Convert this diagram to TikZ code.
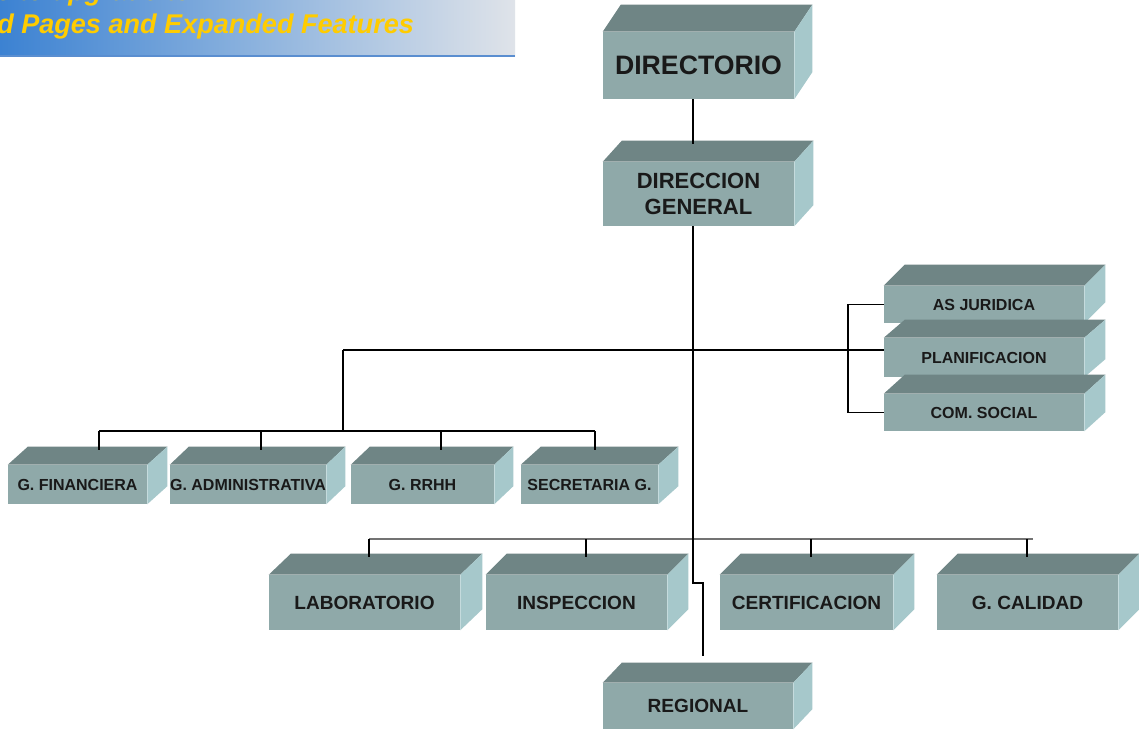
\documentclass[tikz,border=0pt]{standalone}
\usepackage{fontspec}
\setmainfont{Liberation Sans}
\definecolor{frontc}{HTML}{8FA9A9}
\definecolor{topc}{HTML}{6F8585}
\definecolor{sidec}{HTML}{A6C8CB}
\definecolor{bannerL}{HTML}{3C82D2}
\definecolor{bannerM}{HTML}{8DB3DE}
\definecolor{bannerR}{HTML}{DFE3E9}
\definecolor{bannerY}{HTML}{FFCC00}
\definecolor{bannerB}{HTML}{5A8ED0}
\tikzset{
  front/.style={fill=frontc, inner sep=0pt, text=black!90, align=center},
  topf/.style={fill=topc},
  sidef/.style={fill=sidec},
  fa/.style={font=\bfseries\fontsize{20pt}{24pt}\selectfont},
  fb/.style={font=\bfseries\fontsize{16.5pt}{20pt}\selectfont},
  fc/.style={font=\bfseries\fontsize{12pt}{14pt}\selectfont},
  fd/.style={font=\bfseries\fontsize{14.3pt}{17pt}\selectfont},
  conn/.style={draw=black, line width=1.4pt},
  busg/.style={draw=black!55, line width=1.1pt},
  bantext/.style={font=\bfseries\itshape\fontsize{20.3pt}{24pt}\selectfont, text=bannerY, inner sep=0pt, anchor=base west}
}
% name, x1, y1, x2, y2, dx, dy, text, style
\newcommand{\slab}[9]{%
  \node[front, #9, minimum width={(#4-#2)*0.75pt}, minimum height={(#5-#3)*0.75pt}] (#1) at ({(#2+#4)/2},{(#3+#5)/2}) {#8};
  \fill[topf] (#1.north west) -- ++(#6,-#7) -- ([shift={(#6,-#7)}]#1.north east) -- (#1.north east) -- cycle;
  \fill[sidef] (#1.north east) -- ++(#6,-#7) -- ([shift={(#6,-#7)}]#1.south east) -- (#1.south east) -- cycle;
  \coordinate (#1-top) at ([shift={(0,-#7+3)}]#1.north);
}
\begin{document}
\begin{tikzpicture}[x=0.75pt,y=-0.75pt]
\useasboundingbox (0,0) rectangle (1139,729);
\fill[white] (0,0) rectangle (1139,729);
\clip (0,0) rectangle (1139,729);
% banner
\shade[left color=bannerL, right color=bannerM] (0,0) rectangle (258,56);
\shade[left color=bannerM, right color=bannerR] (257,0) rectangle (515,56);
\draw[bannerB, line width=1.5pt] (0,56) -- (515,56);
\node[bantext] (bt1) at (-4,0) {e to upgrade to};
\node[bantext] (bt2) at (-3,33) {d Pages and Expanded Features};
% boxes
\slab{dir}{603}{32}{794}{99}{18}{27}{DIRECTORIO}{fa}
\slab{dg}{603}{162}{794}{226}{19}{21}{DIRECCION\\GENERAL}{fb}
\slab{aj}{884}{286}{1084}{323}{21}{21}{AS JURIDICA}{fc}
\slab{planif}{884}{338}{1084}{377}{21}{18}{PLANIFICACION}{fc}
\slab{cs}{884}{394}{1084}{431}{21}{19}{COM. SOCIAL}{fc}
\slab{fin}{8}{465}{147}{504}{20}{18}{G. FINANCIERA}{fc}
\slab{adm}{170}{465}{326}{504}{19}{18}{G. ADMINISTRATIVA}{fc}
\slab{rrhh}{351}{465}{494}{504}{19}{18}{G. RRHH}{fc}
\slab{sec}{521}{465}{658}{504}{20}{18}{SECRETARIA G.}{fc}
\slab{lab}{269}{575}{460}{630}{22}{21}{LABORATORIO}{fd}
\slab{insp}{486}{575}{667}{630}{21}{21}{INSPECCION}{fd}
\slab{cert}{720}{575}{893}{630}{21}{21}{CERTIFICACION}{fd}
\slab{gcal}{937}{575}{1118}{630}{21}{21}{G. CALIDAD}{fd}
\slab{reg}{603}{683}{793}{729}{19}{20}{REGIONAL}{fd}
% connectors
\coordinate (sp) at (693,0);
\coordinate (j1) at (693,583);
\coordinate (j2) at (703,583);
\coordinate (regtop) at (703,656);
\coordinate (b1) at (343,350);
\coordinate (b2) at (343,431);
\coordinate (br) at (848,350);
\coordinate (f1) at (99,431);
\coordinate (f2) at (261,431);
\coordinate (f3) at (441,431);
\coordinate (f4) at (595,431);
\coordinate (g1) at (369,539);
\coordinate (g2) at (586,539);
\coordinate (g3) at (811,539);
\coordinate (g4) at (1027,539);
\coordinate (gend) at (1033,539);
% bottom bus
\draw[busg] (g1) -- (gend);
\draw[conn] (g1) -- (g1 |- lab-top);
\draw[conn] (g2) -- (g2 |- insp-top);
\draw[conn] (g3) -- (g3 |- cert-top);
\draw[conn] (g4) -- (g4 |- gcal-top);
% spine
\draw[conn] (dir.south -| sp) -- (sp |- dg-top);
\draw[conn] (dg.south -| sp) -- (j1) -- (j2) -- (regtop);
% middle bus
\draw[conn] (b1) -- (planif.west |- b1);
\draw[conn] (b1) -- (b2);
\draw[conn] (aj.west) -- (aj.west -| br) -- (cs.west -| br) -- (cs.west);
% left bus
\draw[conn] (f1) -- (f4);
\draw[conn] (f1) -- (f1 |- fin-top);
\draw[conn] (f2) -- (f2 |- adm-top);
\draw[conn] (f3) -- (f3 |- rrhh-top);
\draw[conn] (f4) -- (f4 |- sec-top);
\end{tikzpicture}
\end{document}
